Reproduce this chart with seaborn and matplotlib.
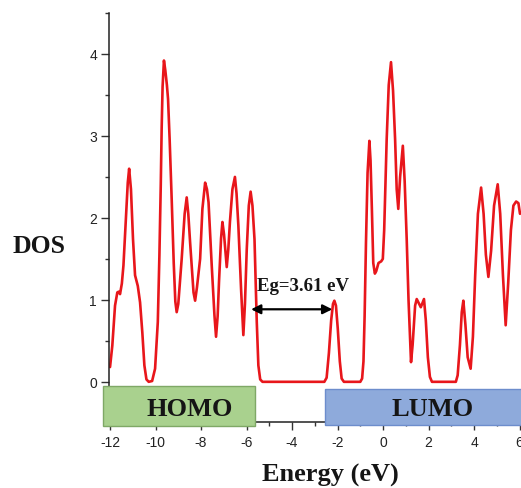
import matplotlib
matplotlib.use('Agg')
import matplotlib.pyplot as plt
import seaborn as sns
from matplotlib.patches import Rectangle
from matplotlib.ticker import MultipleLocator

# DOS curve (energy in eV)
energy = [-12.00, -11.90, -11.78, -11.68, -11.62, -11.56, -11.48, -11.41, -11.31, -11.22,
          -11.16, -11.08, -10.99, -10.90, -10.78, -10.68, -10.58, -10.49, -10.40, -10.30,
          -10.15, -10.02, -9.90, -9.83, -9.77, -9.73, -9.69, -9.63, -9.57, -9.50,
          -9.45, -9.38, -9.29, -9.20, -9.13, -9.07, -9.00, -8.85, -8.72, -8.63,
          -8.56, -8.48, -8.33, -8.26, -8.18, -8.04, -7.94, -7.82, -7.74, -7.67,
          -7.53, -7.41, -7.34, -7.27, -7.21, -7.12, -7.06, -6.99, -6.87, -6.80,
          -6.73, -6.62, -6.51, -6.44, -6.36, -6.24, -6.14, -6.07, -5.99, -5.90,
          -5.82, -5.74, -5.65, -5.55, -5.48, -5.40, -5.30, -4.00, -2.58, -2.48,
          -2.38, -2.28, -2.20, -2.14, -2.07, -1.99, -1.90, -1.82, -1.72, -1.00,
          -0.92, -0.86, -0.81, -0.75, -0.68, -0.60, -0.55, -0.49, -0.43, -0.36,
          -0.30, -0.20, -0.08, -0.01, 0.05, 0.10, 0.16, 0.25, 0.35, 0.44,
          0.53, 0.60, 0.67, 0.75, 0.87, 0.95, 1.04, 1.12, 1.19, 1.23,
          1.30, 1.41, 1.48, 1.57, 1.66, 1.73, 1.80, 1.88, 1.97, 2.06,
          2.15, 3.20, 3.28, 3.38, 3.46, 3.53, 3.62, 3.72, 3.85, 3.95,
          4.05, 4.17, 4.31, 4.42, 4.52, 4.63, 4.75, 4.88, 5.04, 5.15,
          5.27, 5.39, 5.50, 5.62, 5.73, 5.85, 5.95, 6.02]
dos = [0.18, 0.44, 0.93, 1.09, 1.10, 1.07, 1.20, 1.42, 1.95, 2.43,
       2.60, 2.35, 1.74, 1.30, 1.17, 0.97, 0.60, 0.20, 0.03, 0.00,
       0.01, 0.16, 0.73, 1.54, 2.40, 3.10, 3.60, 3.92, 3.80, 3.62,
       3.45, 2.96, 2.23, 1.45, 0.98, 0.85, 0.95, 1.50, 2.05, 2.25,
       2.05, 1.70, 1.09, 0.99, 1.15, 1.50, 2.11, 2.43, 2.35, 2.19,
       1.42, 0.81, 0.55, 0.80, 1.22, 1.75, 1.95, 1.80, 1.40, 1.62,
       1.95, 2.35, 2.50, 2.30, 1.91, 1.13, 0.57, 0.95, 1.62, 2.15,
       2.32, 2.15, 1.74, 0.73, 0.20, 0.03, 0.00, 0.00, 0.00, 0.05,
       0.35, 0.75, 0.95, 0.99, 0.93, 0.65, 0.25, 0.04, 0.00, 0.00,
       0.04, 0.25, 0.80, 1.70, 2.55, 2.94, 2.70, 2.10, 1.45, 1.32,
       1.35, 1.45, 1.47, 1.50, 1.85, 2.35, 2.96, 3.62, 3.90, 3.55,
       2.96, 2.35, 2.11, 2.50, 2.88, 2.45, 1.74, 1.00, 0.52, 0.24,
       0.45, 0.93, 1.01, 0.96, 0.91, 0.96, 1.01, 0.75, 0.30, 0.06,
       0.00, 0.00, 0.08, 0.45, 0.85, 0.99, 0.70, 0.30, 0.16, 0.55,
       1.30, 2.05, 2.37, 2.05, 1.55, 1.28, 1.60, 2.15, 2.41, 2.05,
       1.30, 0.69, 1.20, 1.85, 2.15, 2.20, 2.18, 2.05]

xticks = [-12, -10, -8, -6, -4, -2, 0, 2, 4, 6]
yticks = [0, 1, 2, 3, 4]
gap_text = 'Eg=3.61 eV'
homo_edge = -5.63   # HOMO box right end
lumo_edge = -2.55   # LUMO box left end

sns.set_style('ticks')
plt.rcParams['font.family'] = ['Liberation Sans', 'DejaVu Sans']
plt.rcParams['axes.unicode_minus'] = False
serif = ['Liberation Serif', 'DejaVu Serif']

fig = plt.figure(figsize=(5.21, 4.89), dpi=100)
ax = fig.add_axes([0.209, 0.135, 0.7904, 0.8364])

sns.lineplot(x=energy, y=dos, ax=ax, color='#e8161b', linewidth=1.9, legend=False,
             solid_joinstyle='round', solid_capstyle='round')

ax.set_xlim(-12.05, 6.05)
ax.set_ylim(-0.49, 4.5)
ax.set_xticks(xticks)
ax.set_yticks(yticks)
ax.xaxis.set_minor_locator(MultipleLocator(1))
ax.yaxis.set_minor_locator(MultipleLocator(0.5))
ax.tick_params(which='major', length=5.5, width=1, color='#333333',
               labelsize=10, labelcolor='#222222')
ax.tick_params(which='minor', length=3, width=1, color='#333333')
ax.tick_params(axis='x', pad=4)
ax.tick_params(axis='y', pad=3)
sns.despine(ax=ax)
for s in ['left', 'bottom']:
    ax.spines[s].set_color('#222222')
    ax.spines[s].set_linewidth(1.1)

# HOMO / LUMO boxes sitting on the energy axis
ax.add_patch(Rectangle((-12.30, -0.533), homo_edge + 12.30, 0.48, facecolor='#a9d18e',
                       edgecolor='#7fa866', linewidth=1, clip_on=False, zorder=3))
ax.add_patch(Rectangle((lumo_edge, -0.525), 9.0, 0.44, facecolor='#8eaadb',
                       edgecolor='#6d8dcc', linewidth=1, clip_on=False, zorder=3))
ax.text(-8.48, -0.41, 'HOMO', ha='center', va='baseline', fontsize=19,
        fontweight='bold', family=serif, color='#151515', zorder=4)
ax.text(2.18, -0.40, 'LUMO', ha='center', va='baseline', fontsize=19,
        fontweight='bold', family=serif, color='#151515', zorder=4, clip_on=False)

# band gap arrow
ax.annotate('', xy=(-2.23, 0.885), xytext=(-5.80, 0.885),
            arrowprops=dict(arrowstyle='<|-|>', color='black', lw=1.6,
                            mutation_scale=14, shrinkA=0, shrinkB=0))
ax.text(-5.54, 1.12, gap_text, ha='left', va='baseline', fontsize=13.5,
        fontweight='bold', family=serif, color='#151515')

ax.set_xlabel('Energy (eV)', fontsize=19, fontweight='bold', family=serif,
              color='#151515', va='baseline')
ax.xaxis.set_label_coords(0.537, -0.1435)
ax.set_ylabel('DOS', fontsize=18.5, fontweight='bold', family=serif,
              color='#151515', rotation=0, ha='center', va='baseline')
ax.yaxis.set_label_coords(-0.1697, 0.415)

plt.savefig('out.png', dpi=100)
plt.close()
